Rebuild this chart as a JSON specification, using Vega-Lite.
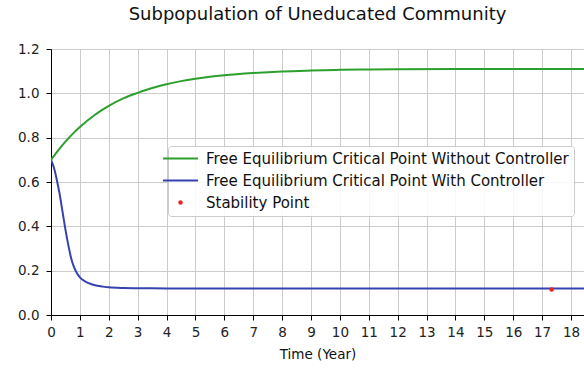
{
  "$schema": "https://vega.github.io/schema/vega-lite/v6.json",
  "width": 533,
  "height": 266,
  "autosize": {"type": "none"},
  "padding": {"left": 51, "top": 49, "right": 0, "bottom": 54},
  "background": "white",
  "title": {"text": "Subpopulation of Uneducated Community", "font": "DejaVu Sans", "fontSize": 18, "fontWeight": "normal", "color": "#111", "offset": 18, "anchor": "middle"},
  "config": {
    "view": {"stroke": "black", "strokeWidth": 1},
    "axis": {"labelFont": "DejaVu Sans", "titleFont": "DejaVu Sans", "labelFontSize": 13.5, "titleFontSize": 13.5, "titleFontWeight": "normal", "labelColor": "#222", "titleColor": "#111", "tickColor": "black", "domainColor": "black", "gridColor": "#cccccc", "gridWidth": 1, "tickSize": 5, "labelOverlap": false}
  },
  "data": {"values": [
    {"t": 0, "v": 0.70, "s": "Free Equilibrium Critical Point Without Controller"},
    {"t": 0.25, "v": 0.743, "s": "Free Equilibrium Critical Point Without Controller"},
    {"t": 0.5, "v": 0.782, "s": "Free Equilibrium Critical Point Without Controller"},
    {"t": 0.75, "v": 0.817, "s": "Free Equilibrium Critical Point Without Controller"},
    {"t": 1, "v": 0.848, "s": "Free Equilibrium Critical Point Without Controller"},
    {"t": 1.5, "v": 0.901, "s": "Free Equilibrium Critical Point Without Controller"},
    {"t": 2, "v": 0.943, "s": "Free Equilibrium Critical Point Without Controller"},
    {"t": 2.5, "v": 0.977, "s": "Free Equilibrium Critical Point Without Controller"},
    {"t": 3, "v": 1.002, "s": "Free Equilibrium Critical Point Without Controller"},
    {"t": 3.5, "v": 1.024, "s": "Free Equilibrium Critical Point Without Controller"},
    {"t": 4, "v": 1.041, "s": "Free Equilibrium Critical Point Without Controller"},
    {"t": 4.5, "v": 1.055, "s": "Free Equilibrium Critical Point Without Controller"},
    {"t": 5, "v": 1.066, "s": "Free Equilibrium Critical Point Without Controller"},
    {"t": 5.5, "v": 1.075, "s": "Free Equilibrium Critical Point Without Controller"},
    {"t": 6, "v": 1.082, "s": "Free Equilibrium Critical Point Without Controller"},
    {"t": 7, "v": 1.092, "s": "Free Equilibrium Critical Point Without Controller"},
    {"t": 8, "v": 1.099, "s": "Free Equilibrium Critical Point Without Controller"},
    {"t": 9, "v": 1.103, "s": "Free Equilibrium Critical Point Without Controller"},
    {"t": 10, "v": 1.106, "s": "Free Equilibrium Critical Point Without Controller"},
    {"t": 11, "v": 1.108, "s": "Free Equilibrium Critical Point Without Controller"},
    {"t": 12, "v": 1.109, "s": "Free Equilibrium Critical Point Without Controller"},
    {"t": 14, "v": 1.110, "s": "Free Equilibrium Critical Point Without Controller"},
    {"t": 16, "v": 1.110, "s": "Free Equilibrium Critical Point Without Controller"},
    {"t": 18.45, "v": 1.110, "s": "Free Equilibrium Critical Point Without Controller"},
    {"t": 0, "v": 0.70, "s": "Free Equilibrium Critical Point With Controller"},
    {"t": 0.1, "v": 0.665, "s": "Free Equilibrium Critical Point With Controller"},
    {"t": 0.2, "v": 0.61, "s": "Free Equilibrium Critical Point With Controller"},
    {"t": 0.3, "v": 0.545, "s": "Free Equilibrium Critical Point With Controller"},
    {"t": 0.4, "v": 0.465, "s": "Free Equilibrium Critical Point With Controller"},
    {"t": 0.5, "v": 0.385, "s": "Free Equilibrium Critical Point With Controller"},
    {"t": 0.6, "v": 0.315, "s": "Free Equilibrium Critical Point With Controller"},
    {"t": 0.7, "v": 0.255, "s": "Free Equilibrium Critical Point With Controller"},
    {"t": 0.8, "v": 0.215, "s": "Free Equilibrium Critical Point With Controller"},
    {"t": 0.9, "v": 0.188, "s": "Free Equilibrium Critical Point With Controller"},
    {"t": 1.0, "v": 0.170, "s": "Free Equilibrium Critical Point With Controller"},
    {"t": 1.2, "v": 0.150, "s": "Free Equilibrium Critical Point With Controller"},
    {"t": 1.4, "v": 0.139, "s": "Free Equilibrium Critical Point With Controller"},
    {"t": 1.6, "v": 0.132, "s": "Free Equilibrium Critical Point With Controller"},
    {"t": 1.8, "v": 0.128, "s": "Free Equilibrium Critical Point With Controller"},
    {"t": 2.0, "v": 0.125, "s": "Free Equilibrium Critical Point With Controller"},
    {"t": 2.5, "v": 0.122, "s": "Free Equilibrium Critical Point With Controller"},
    {"t": 3.0, "v": 0.121, "s": "Free Equilibrium Critical Point With Controller"},
    {"t": 4.0, "v": 0.120, "s": "Free Equilibrium Critical Point With Controller"},
    {"t": 10.0, "v": 0.120, "s": "Free Equilibrium Critical Point With Controller"},
    {"t": 18.45, "v": 0.120, "s": "Free Equilibrium Critical Point With Controller"},
    {"t": 17.33, "v": 0.115, "s": "Stability Point"}
  ]},
  "encoding": {
    "x": {"field": "t", "type": "quantitative", "scale": {"domain": [0, 18.45], "nice": false}, "axis": {"title": "Time (Year)", "values": [0,1,2,3,4,5,6,7,8,9,10,11,12,13,14,15,16,17,18], "tickCount": 19, "labelOverlap": false, "labelBound": false, "labelFlush": false, "labelPadding": 5, "titlePadding": 9}},
    "y": {"field": "v", "type": "quantitative", "scale": {"domain": [0, 1.2], "nice": false}, "axis": {"title": null, "values": [0, 0.2, 0.4, 0.6, 0.8, 1.0, 1.2], "format": ".1f", "labelPadding": 7, "labelOverlap": false}},
    "color": {"field": "s", "type": "nominal", "scale": {"domain": ["Free Equilibrium Critical Point Without Controller", "Free Equilibrium Critical Point With Controller", "Stability Point"], "range": ["#2ca02c", "#3543b0", "#f02020"]},
      "legend": {
        "orient": "none", "legendX": 117, "legendY": 97, "title": null,
        "fillColor": "rgba(255,255,255,0.85)", "strokeColor": "#cccccc", "cornerRadius": 3, "padding": 5,
        "labelFont": "DejaVu Sans", "labelFontSize": 15, "labelColor": "#111", "labelOffset": 18, "labelLimit": 0,
        "symbolType": "stroke", "symbolSize": 1225, "symbolStrokeWidth": 2, "rowPadding": 6,
        "encode": {"symbols": {"update": {
          "shape": {"signal": "datum.value === 'Stability Point' ? 'circle' : 'stroke'"},
          "size": {"signal": "datum.value === 'Stability Point' ? 20 : 1225"},
          "fill": {"signal": "datum.value === 'Stability Point' ? '#f02020' : 'transparent'"},
          "strokeWidth": {"signal": "datum.value === 'Stability Point' ? 0 : 2"}
        }}}
      }
    }
  },
  "layer": [
    {
      "transform": [{"filter": "datum.s !== 'Stability Point'"}],
      "mark": {"type": "line", "strokeWidth": 2, "clip": true, "interpolate": "monotone"}
    },
    {
      "transform": [{"filter": "datum.s === 'Stability Point'"}],
      "mark": {"type": "point", "filled": true, "size": 22, "opacity": 1}
    }
  ]
}
